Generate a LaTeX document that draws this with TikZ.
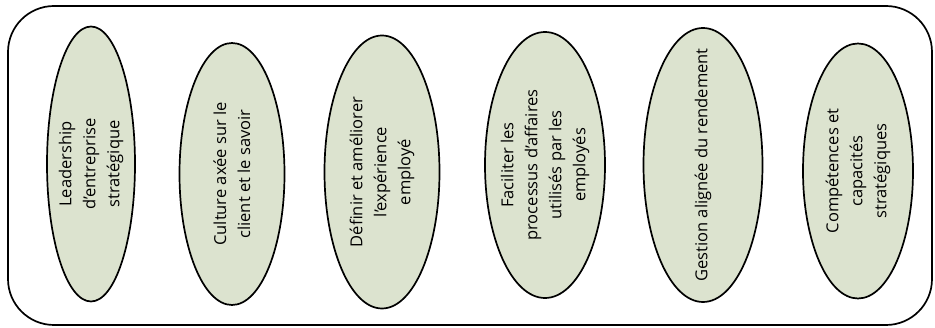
\documentclass[tikz,border=0pt]{standalone}
\usepackage{fontspec}
\setmainfont{Open Sans}
\usetikzlibrary{shapes.geometric}
\definecolor{ellfill}{HTML}{DCE3CF}
\tikzset{
  px/.style={x=1pt,y=-1pt},
  oval/.style={ellipse, draw=black, line width=1.7pt, fill=ellfill, rotate=90, inner sep=0pt},
  ovaltext/.style={rotate=90, inner sep=0pt, align=center, font=\fontsize{16.5}{24}\selectfont},
  frame/.style={draw=black, line width=1.7pt, rounded corners=46pt}
}
\begin{document}
\begin{tikzpicture}[px]
\useasboundingbox (0,0) rectangle (935,328);
\draw[frame] (8,6) rectangle (932,325);
\node[oval, minimum width=275pt, minimum height=88pt] (e1) at (91,164) {};
\node[ovaltext] (t1) at (e1.center) {Leadership\\d'entreprise\\stratégique};
\node[oval, minimum width=262pt, minimum height=105pt] (e2) at (232,174) {};
\node[ovaltext] (t2) at (e2.center) {Culture axée sur le\\client et le savoir};
\node[oval, minimum width=273pt, minimum height=115pt] (e3) at (382,172) {};
\node[ovaltext] (t3) at (e3.center) {Définir et améliorer\\l'expérience\\employé};
\node[oval, minimum width=266pt, minimum height=120pt] (e4) at (545,165) {};
\node[ovaltext] (t4) at (e4.center) {Faciliter les\\processus d'affaires\\utilisés par les\\employés};
\node[oval, minimum width=274pt, minimum height=119pt] (e5) at (703,165) {};
\node[ovaltext] (t5) at (e5.center) {Gestion alignée du rendement};
\node[oval, minimum width=255pt, minimum height=110pt] (e6) at (858,171) {};
\node[ovaltext] (t6) at (e6.center) {Compétences et\\capacités\\stratégiques};
\end{tikzpicture}
\end{document}
